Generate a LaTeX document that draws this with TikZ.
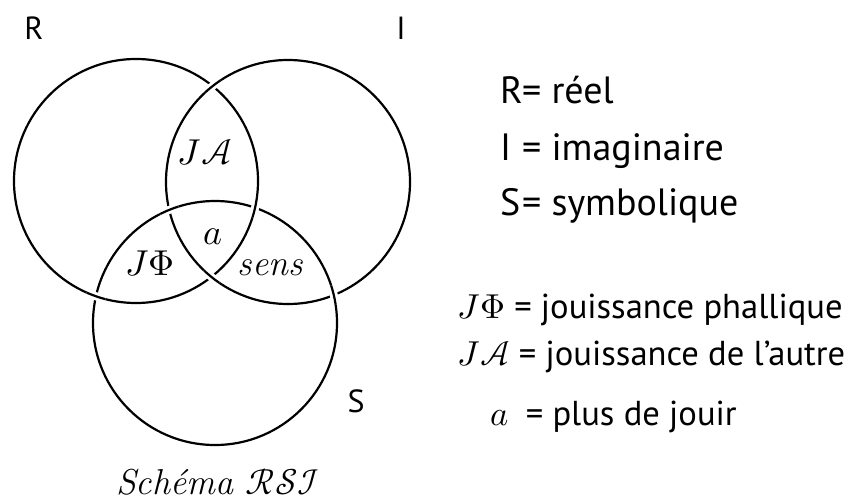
\documentclass[tikz,border=0pt]{standalone}
\usepackage{amsmath}
\usepackage{fontspec}
\usepackage{unicode-math}
\setsansfont{PT Sans}
\setmathfont{Latin Modern Math}
\usetikzlibrary{intersections}

\begin{document}
\begin{tikzpicture}[x=1pt,y=-1pt,
  ring/.style={line width=2.2pt},
  gap/.style={white,line width=8pt},
  ringname/.style={font=\fontsize{32}{38}\selectfont\sffamily},
  zone/.style={font=\fontsize{36}{42}\selectfont\itshape},
  legend/.style={anchor=base west,inner sep=0pt,font=\fontsize{38}{44}\selectfont\sffamily},
  legendb/.style={anchor=base west,inner sep=0pt,font=\fontsize{34.6}{40}\selectfont\sffamily}]
  \useasboundingbox (0,0) rectangle (857,501);

  % ── Ring centres ──
  \coordinate (cR) at (136,181);
  \coordinate (cI) at (288,182);
  \coordinate (cS) at (215,323);

  % ── Rings ──
  \draw[ring,name path=R] (cR) circle[radius=122];
  \draw[ring,name path=I] (cI) circle[radius=122];
  \draw[ring,name path=S] (cS) circle[radius=122];
  \path[name intersections={of=R and S,name=rs}];
  \path[name intersections={of=S and I,name=si}];
  \path[name intersections={of=I and R,name=ir}];

  % ── Borromean crossings: R over S, S over I, I over R ──
  \foreach \rg/\xp in {R/rs-1,R/rs-2,S/si-1,S/si-2,I/ir-1,I/ir-2}{
    \begin{scope}
      \clip (\xp) circle[radius=10];
      \draw[gap] (c\rg) circle[radius=122];
      \draw[ring] (c\rg) circle[radius=122];
    \end{scope}
  }

  % ── Ring names ──
  \node[ringname] (lR) at (34,28) {R};
  \node[ringname] (lI) at (401,28) {I};
  \node[ringname] (lS) at (356,401) {S};

  % ── Zones ──
  \node[zone] (zA) at (205,152) {$J\mathcal{A}$};
  \node[zone] (za) at (213,237) {$a$};
  \node[zone] (zphi) at (150,264) {$J\Phi$};
  \node[zone] (zsens) at (270,268) {sens};
  \node[zone] (title) at (218,482) {Schéma $\mathcal{R}\mathcal{S}\mathcal{I}$};

  % ── Legend ──
  \node[legend] (kR) at (500,103) {\makebox[22pt][l]{R}= réel};
  \node[legend] (kI) at (500,160) {\makebox[22pt][l]{I}= imaginaire};
  \node[legend] (kS) at (500,215) {\makebox[22pt][l]{S}= symbolique};
  \node[legendb] (kphi) at (457,318) {$J\Phi$ = jouissance phallique};
  \node[legendb] (kA) at (457,365) {$J\mathcal{A}$ = jouissance de l'autre};
  \node[legendb] (ka) at (490,425) {$a$\enspace= plus de jouir};
\end{tikzpicture}
\end{document}
